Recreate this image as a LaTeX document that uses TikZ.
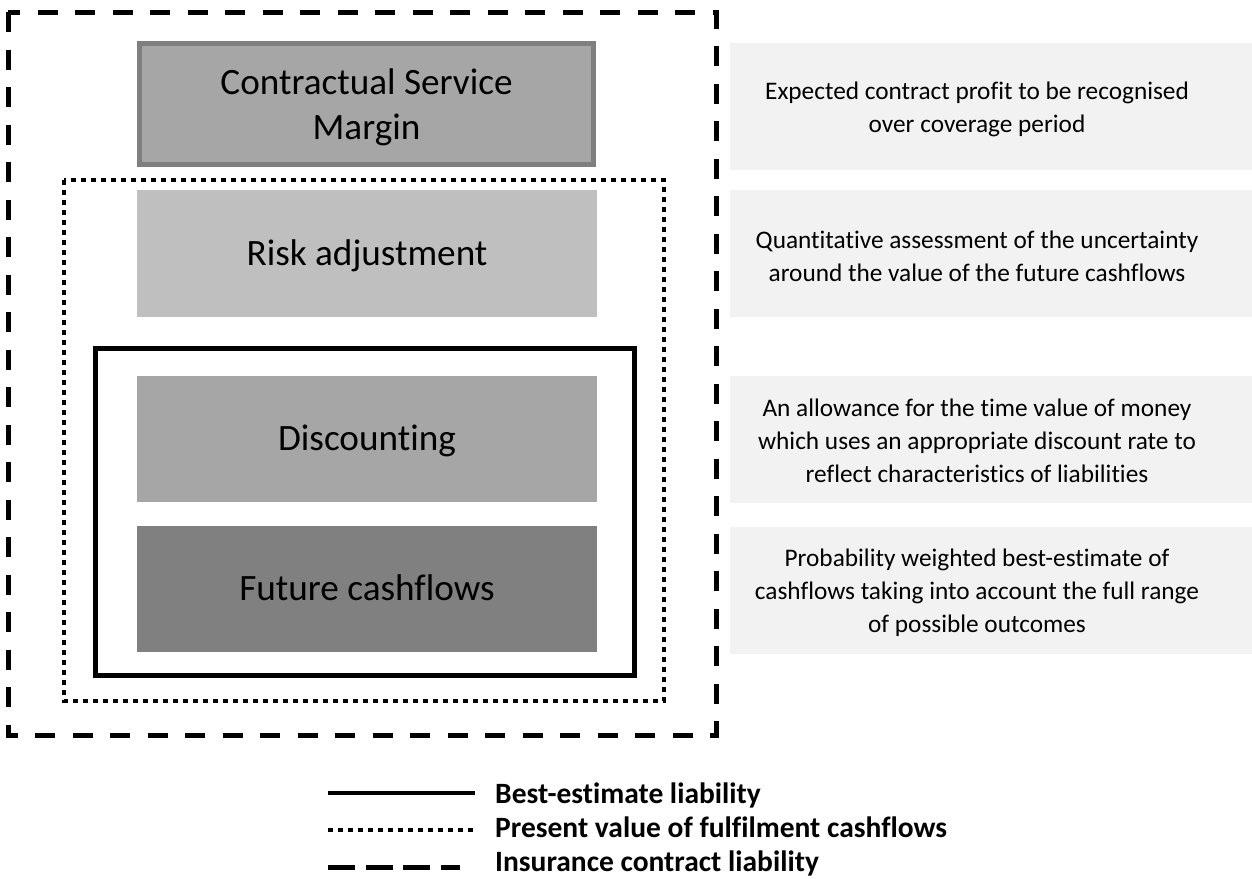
\documentclass[tikz,border=0pt]{standalone}
\usepackage{fontspec}
\setmainfont[Ligatures=CommonOff]{Carlito}
\definecolor{csmfill}{HTML}{A6A6A6}
\definecolor{csmborder}{HTML}{7F7F7F}
\definecolor{riskfill}{HTML}{BFBFBF}
\definecolor{discfill}{HTML}{A6A6A6}
\definecolor{futfill}{HTML}{808080}
\definecolor{descfill}{HTML}{F2F2F2}
\begin{document}
\begin{tikzpicture}[x=1pt,y=-1pt,
  box/.style={inner sep=0pt, outer sep=0pt, minimum width=460pt, minimum height=126pt, align=center,
    font=\fontsize{37.2}{45}\selectfont, text height=23.5pt, text depth=0pt},
  boxtext/.style={inner sep=0pt, align=center, font=\fontsize{37.2}{45}\selectfont},
  descbox/.style={fill=descfill, inner sep=0pt, outer sep=0pt, minimum width=522pt, minimum height=127pt},
  desctext/.style={inner sep=0pt, align=center, font=\fontsize{25.3}{33}\selectfont},
  legtext/.style={anchor=base west, inner sep=0pt, font=\fontsize{29.5}{36}\selectfont\bfseries},
  dashline/.style={line width=5pt, dash pattern=on 20pt off 17.5pt},
  dotline/.style={line width=4.5pt, dash pattern=on 5pt off 5pt},
  solidline/.style={line width=5pt}]
\useasboundingbox (0,0) rectangle (1252,878);
% outlines
\draw[dashline] (8,12) rectangle (716,735);
\draw[dotline] (64,180) rectangle (664,701);
\draw[solidline] (95,348) rectangle (634,675);
% component boxes
\node[box, fill=csmfill, draw=csmborder, line width=5pt, minimum width=454pt, minimum height=121pt] (csm) at (366.5,104) {};
\node[boxtext] (csmt) at (366.5,107) {Contractual Service\\Margin};
\node[box, fill=riskfill, minimum height=127pt] (risk) at (367,253.5) {Risk adjustment};
\node[box, fill=discfill] (disc) at (367,439) {Discounting};
\node[box, fill=futfill] (fut) at (367,589) {Future cashflows};
% descriptions
\node[descbox] (b1) at (991,106.5) {};
\node[descbox] (b2) at (991,253.5) {};
\node[descbox] (b3) at (991,439.5) {};
\node[descbox] (b4) at (991,590.5) {};
\node[desctext] (d1) at (977,109) {Expected contract profit to be recognised\\over coverage period};
\node[desctext] (d2) at (977,256) {Quantitative assessment of the uncertainty\\around the value of the future cashflows};
\node[desctext] (d3) at (977,441) {An allowance for the time value of money\\which uses an appropriate discount rate to\\reflect characteristics of liabilities};
\node[desctext] (d4) at (977,593) {Probability weighted best-estimate of\\cashflows taking into account the full range\\of possible outcomes};
% legend
\coordinate (l1a) at (328,793);
\coordinate (l1b) at (475,793);
\coordinate (l2a) at (328,830);
\coordinate (l2b) at (475,830);
\coordinate (l3a) at (328,867);
\coordinate (l3b) at (460,867);
\draw[line width=4.5pt] (l1a) -- (l1b);
\draw[dotline] (l2a) -- (l2b);
\draw[line width=5pt, dash pattern=on 27pt off 10.5pt] (l3a) -- (l3b);
\node[legtext] (t1) at (495,803) {Best-estimate liability};
\node[legtext] (t2) at (495,837) {Present value of fulfilment cashflows};
\node[legtext] (t3) at (495,871) {Insurance contract liability};
\end{tikzpicture}
\end{document}
